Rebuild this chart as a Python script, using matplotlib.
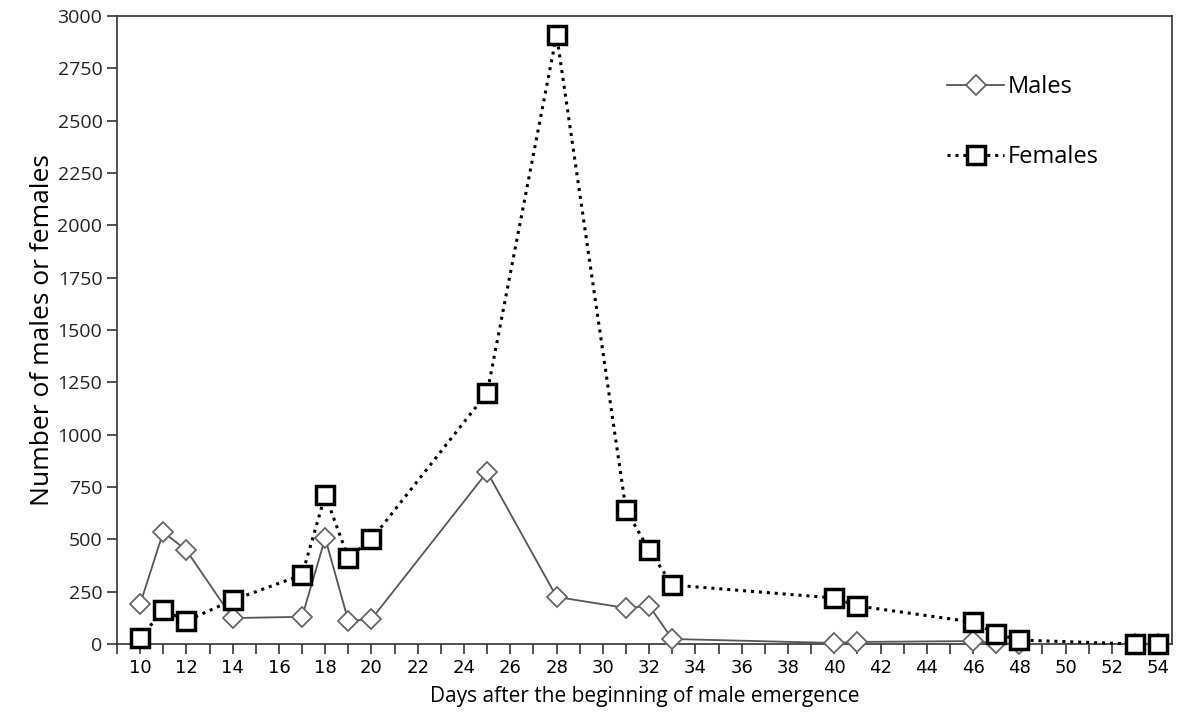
import numpy as np
import matplotlib
matplotlib.use("Agg")
import matplotlib.pyplot as plt

# days after start of male emergence
days_m = [10, 11, 12, 14, 17, 18, 19, 20, 25, 28, 31, 32, 33, 40, 41, 46, 47, 48, 53, 54]
males = [191, 535, 448, 124, 130, 506, 110, 119, 822, 225, 172, 182, 24, 5, 10, 14, 4, 0, 0, 0]
days_f = [10, 11, 12, 14, 17, 18, 19, 20, 25, 28, 31, 32, 33, 40, 41, 46, 47, 48, 53, 54]
females = [29, 162, 110, 210, 330, 712, 411, 500, 1200, 2910, 640, 449, 282, 220, 182, 105, 48, 19, 0, 0]

xticks = list(range(10, 55, 2))
yticks = list(range(0, 3001, 250))

fig = plt.figure(figsize=(11.84, 7.22), dpi=100)
ax = fig.add_axes([0.0988, 0.108, 0.8911, 0.8698])

ax.plot(days_m, males, color="#555555", lw=1.3, marker="D", ms=10,
        mfc="white", mec="#666666", mew=1.3, label="Males", zorder=3, clip_on=False)
ax.plot(days_f, females, color="black", lw=2.2, ls=(0, (1, 1.6)), marker="s", ms=13,
        mfc="white", mec="black", mew=2.5, label="Females", zorder=4, clip_on=False)

ax.set_xlim(9, 54.6)
ax.set_ylim(0, 3000)
ax.set_xticks(xticks)
ax.set_xticks(range(9, 55), minor=True)
ax.set_yticks(yticks)
for s in ax.spines.values():
    s.set_linewidth(1.2)
    s.set_color("#333333")
ax.tick_params(axis="x", which="both", direction="out", length=7, width=1.2, color="#333333",
               labelsize=13, pad=4)
ax.tick_params(axis="y", direction="out", length=7, width=1.2, color="#333333", labelsize=14)
for lab in ax.get_xticklabels():
    lab.set_family(["Liberation Sans Narrow", "DejaVu Sans"])
for lab in ax.get_yticklabels():
    lab.set_family(["Open Sans", "DejaVu Sans"])
    lab.set_color("#222222")

ax.set_xlabel("Days after the beginning of male emergence", fontsize=15,
              family=["Open Sans", "DejaVu Sans"], labelpad=6)
ax.set_ylabel("Number of males or females", fontsize=19,
              family=["Open Sans", "DejaVu Sans"], labelpad=2)

leg = ax.legend(loc="upper left", bbox_to_anchor=(0.767, 0.94), frameon=False,
                labelspacing=1.95, handlelength=2.4, handletextpad=0.15,
                prop={"family": ["Open Sans", "DejaVu Sans"], "size": 17})

fig.savefig("out.png", dpi=100)
